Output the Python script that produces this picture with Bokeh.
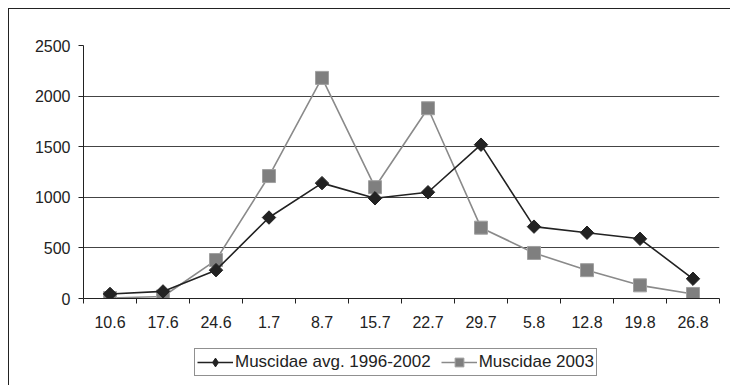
import math
from bokeh.plotting import figure
from bokeh.layouts import column
from bokeh.models import (FixedTicker, Legend, LegendItem, Range1d, Grid)
from bokeh.embed import file_html
from bokeh.resources import INLINE

categories = ["10.6", "17.6", "24.6", "1.7", "8.7", "15.7", "22.7", "29.7", "5.8", "12.8", "19.8", "26.8"]
avg_1996_2002 = [45, 70, 280, 800, 1140, 990, 1050, 1520, 710, 650, 590, 195]
muscidae_2003 = [5, 20, 380, 1210, 2180, 1100, 1880, 700, 450, 280, 130, 45]
y_ticks = [0, 500, 1000, 1500, 2000, 2500]
series_names = ["Muscidae avg. 1996-2002", "Muscidae 2003"]

xs = list(range(1, len(categories) + 1))
FONT = "Liberation Sans"
DARK = "#222222"
GREY_LINE = "#8a8a8a"
GREY_FILL = "#7f7f7f"
GREY_EDGE = "#a0a0a0"

p = figure(width=722, height=330, output_backend="svg", toolbar_location=None,
           x_range=Range1d(0.5, len(categories) + 0.5), y_range=Range1d(0, 2500),
           min_border_left=74, min_border_right=12, min_border_top=36, min_border_bottom=41)
p.outline_line_color = None
p.background_fill_color = "white"
p.border_fill_color = "white"

# x axis: labels at centers, tick marks between categories
p.xaxis.ticker = FixedTicker(ticks=xs, minor_ticks=[x - 0.5 for x in xs] + [len(xs) + 0.5])
p.xaxis.major_label_overrides = {x: c for x, c in zip(xs, categories)}
p.xaxis.major_tick_out = 0
p.xaxis.major_tick_in = 0
p.xaxis.minor_tick_out = 5
p.xaxis.minor_tick_in = 0
p.xaxis.minor_tick_line_color = DARK
p.xaxis.axis_line_color = DARK
p.xaxis.major_label_standoff = 12
p.xgrid.visible = False

p.yaxis.ticker = FixedTicker(ticks=y_ticks)
p.yaxis.major_tick_out = 5
p.yaxis.major_tick_in = 0
p.yaxis.minor_tick_line_color = None
p.yaxis.axis_line_color = DARK
p.yaxis.major_tick_line_color = DARK
p.yaxis.major_label_standoff = 8
p.ygrid.ticker = FixedTicker(ticks=[500, 1000, 1500, 2000])
p.ygrid.grid_line_color = "#444444"
p.add_layout(Grid(dimension=1, ticker=FixedTicker(ticks=[2500]), grid_line_color="#e6e6e6"))

for ax in (p.xaxis, p.yaxis):
    ax.major_label_text_font = FONT
    ax.major_label_text_font_size = "16px"
    ax.major_label_text_color = DARK


def draw_series(fig, avg_marker="square", avg_angle=math.pi / 4, avg_size=9.5):
    l2 = fig.line(xs, muscidae_2003, line_color=GREY_LINE, line_width=1.6)
    s2 = fig.scatter(xs, muscidae_2003, marker="square", size=13, fill_color=GREY_FILL,
                     line_color=GREY_EDGE, line_width=1)
    l1 = fig.line(xs, avg_1996_2002, line_color=DARK, line_width=1.6)
    s1 = fig.scatter(xs, avg_1996_2002, marker=avg_marker, angle=avg_angle, size=avg_size,
                     fill_color=DARK, line_color=DARK)
    return l1, s1, l2, s2


draw_series(p)

# legend strip (separate figure so the legend can sit below the axis);
# its ranges exclude the data, so only the legend is visible there
q = figure(width=722, height=47, output_backend="svg", toolbar_location=None,
           x_range=Range1d(-20, -10), y_range=Range1d(-20, -10), min_border=0,
           x_axis_location=None, y_axis_location=None)
q.grid.visible = False
q.outline_line_color = None
q.border_fill_color = "white"
q.background_fill_color = "white"
ql1, qs1, ql2, qs2 = draw_series(q, avg_marker="diamond", avg_angle=0, avg_size=13)
legend = Legend(items=[LegendItem(label=series_names[0], renderers=[ql1, qs1]),
                       LegendItem(label=series_names[1], renderers=[ql2, qs2])],
                orientation="horizontal", location=(111, 10),
                label_text_font=FONT, label_text_font_size="17px", label_text_color=DARK,
                border_line_color=DARK, border_line_width=1,
                glyph_width=36, glyph_height=22, label_height=17, label_standoff=2,
                spacing=10, padding=2, margin=0)
q.add_layout(legend)

layout = column(p, q, spacing=0,
                styles={"margin-left": "8px", "margin-top": "8px",
                        "border-left": "1.5px solid #222", "border-top": "1.5px solid #222"})

open("out.html", "w").write(file_html(layout, INLINE))
